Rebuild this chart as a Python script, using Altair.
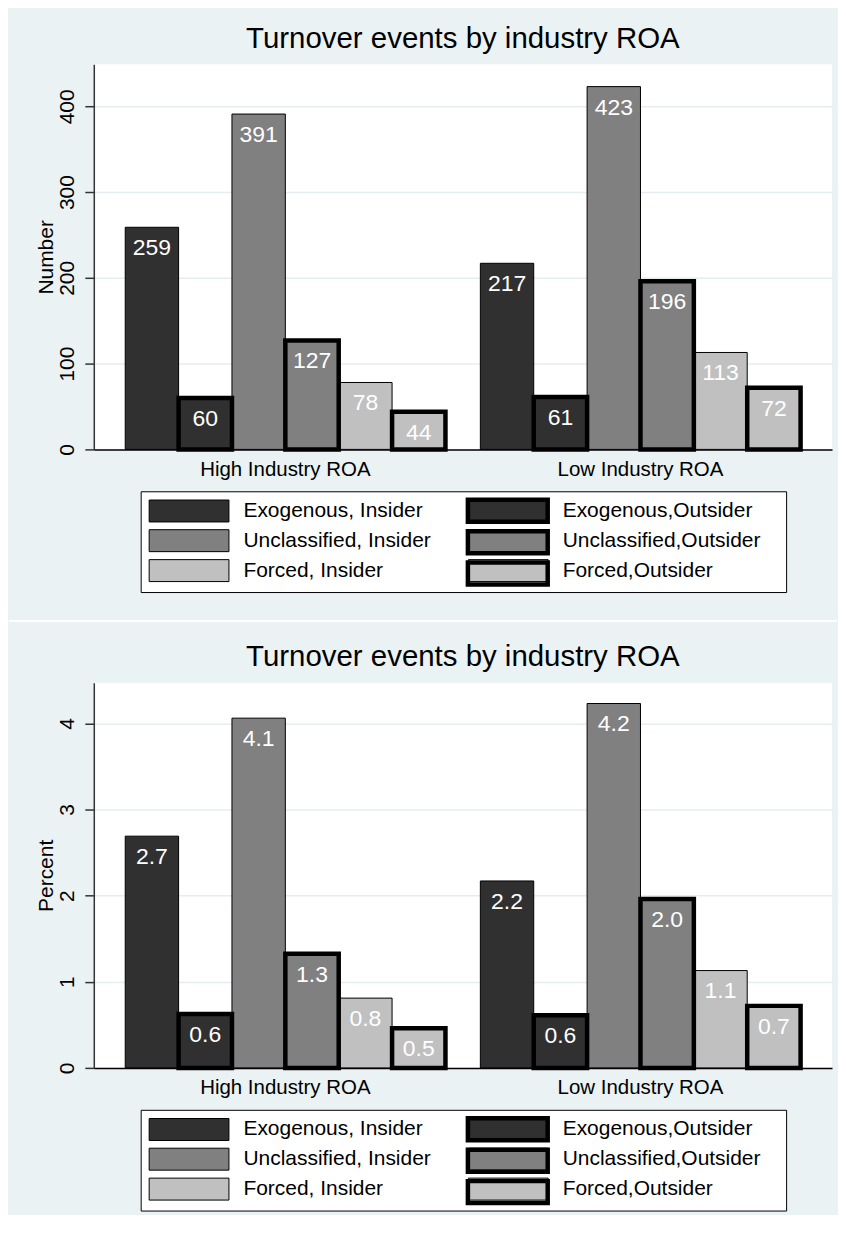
import altair as alt
import pandas as pd

FONT = "Liberation Sans, Arial, Helvetica, sans-serif"

title_text = "Turnover events by industry ROA"
groups = ["High Industry ROA", "Low Industry ROA"]
series = ["Exogenous, Insider", "Exogenous,Outsider",
          "Unclassified, Insider", "Unclassified,Outsider",
          "Forced, Insider", "Forced,Outsider"]
fill_colors = ["#303030", "#303030", "#808080", "#808080", "#C0C0C0", "#C0C0C0"]
is_outsider = [False, True, False, True, False, True]

number_high = [259, 60, 391, 127, 78, 44]
number_low = [217, 61, 423, 196, 113, 72]
number_ticks = [0, 100, 200, 300, 400]

percent_high = [2.69, 0.625, 4.06, 1.325, 0.81, 0.46]
percent_low = [2.17, 0.61, 4.23, 1.96, 1.13, 0.72]
percent_high_text = ["2.7", "0.6", "4.1", "1.3", "0.8", "0.5"]
percent_low_text = ["2.2", "0.6", "4.2", "2.0", "1.1", "0.7"]
percent_ticks = [0, 1, 2, 3, 4]

outsider_series = [s for s, o in zip(series, is_outsider) if o]

PW, PH = 740, 386
SYMBOL = "M-1,-1H6.27V1H-1Z"
# thick black frame laid over the outsider legend keys (outer ring minus inner hole)
FRAME = ("M-1.2045,-1.2045H6.4773V1.2045H-1.2045Z"
         "M-0.7955,-0.7955V0.7955H6.0682V-0.7955Z")


def make_panel(high, low, high_text, low_text, ytitle, ymax, ticks, add_separator):
    df = pd.DataFrame({
        "group": [groups[0]] * 6 + [groups[1]] * 6,
        "series": series * 2,
        "value": high + low,
        "label": high_text + low_text,
        "outsider": is_outsider * 2,
    })
    x = alt.X("group:N", sort=groups,
              scale=alt.Scale(paddingInner=0.0983, paddingOuter=0.0885),
              axis=alt.Axis(title=None, ticks=False, tickSize=0, labelAngle=0,
                            labelFont=FONT, labelFontSize=20.5, labelColor="black",
                            labelPadding=26, labelBaseline="alphabetic",
                            domainColor="black", domainWidth=1.5, grid=False))
    xo = alt.XOffset("series:N", sort=series,
                     scale=alt.Scale(domain=series, paddingInner=0, paddingOuter=0))
    y = alt.Y("value:Q", scale=alt.Scale(domain=[0, ymax], nice=False, zero=True),
              axis=alt.Axis(title=ytitle, values=ticks, tickSize=9, tickColor="#333333",
                            tickWidth=1.5, domainColor="#333333", domainWidth=1.5,
                            labelAngle=270, labelAlign="center", labelBaseline="alphabetic",
                            labelPadding=11, labelFont=FONT, labelFontSize=21,
                            labelColor="black", grid=True, gridColor="#E4EDF0",
                            gridWidth=1.5, titleFont=FONT, titleFontSize=21,
                            titleFontWeight="normal", titleColor="black",
                            titleAngle=270, titleAlign="center",
                            titleBaseline="alphabetic", titleX=-41.5, titleY=PH / 2))
    legend_all = alt.Legend(
        title="00", titleOrient="right", titleOpacity=0, titleFontSize=10,
        titlePadding=6, orient="none", legendX=47, legendY=428,
        direction="horizontal", columns=2, columnPadding=35,
        symbolType=SYMBOL, symbolSize=484, symbolStrokeColor="black",
        symbolStrokeWidth=1, symbolOpacity=1,
        labelFont=FONT, labelFontSize=21, labelColor="black", labelLimit=400,
        labelOffset=72, fillColor="white", strokeColor="black", padding=8,
        rowPadding=3, zindex=1)
    legend_frame = alt.Legend(
        title=None, orient="none", legendX=368, legendY=429.5, direction="vertical",
        symbolType=FRAME, symbolSize=484, symbolFillColor="black",
        symbolStrokeColor="transparent", symbolStrokeWidth=0, symbolOpacity=1,
        labelFont=FONT, labelFontSize=21, labelOpacity=0, labelLimit=400,
        labelExpr="''", labelOffset=68, padding=7, rowPadding=3.5, zindex=2)
    color = alt.Color("series:N", sort=series,
                      scale=alt.Scale(domain=series, range=fill_colors),
                      legend=legend_all)
    base = alt.Chart(df)
    bars_in = base.transform_filter("!datum.outsider").mark_bar(
        stroke="black", strokeWidth=1).encode(x=x, xOffset=xo, y=y, color=color)
    bars_out = base.transform_filter("datum.outsider").mark_bar(
        stroke="black", strokeWidth=4.5).encode(
        x=x, xOffset=xo, y=y, color=color,
        opacity=alt.Opacity("series:N", sort=outsider_series,
                            scale=alt.Scale(domain=outsider_series, range=[1, 1]),
                            legend=legend_frame))
    labels = base.mark_text(color="white", font=FONT, fontSize=23, baseline="alphabetic",
                            align="center", dy=28).encode(
        x=x, xOffset=xo, y=y, text="label:N")
    layers = [bars_in, bars_out, labels]
    if add_separator:
        sep = alt.Chart(pd.DataFrame({"k": [0]})).mark_rule(
            color="white", strokeWidth=2).encode(
            x=alt.value(-85), x2=alt.value(745), y=alt.value(558))
        layers.append(sep)
    return alt.layer(*layers).properties(
        width=PW, height=PH, title=alt.TitleParams(title_text))


p1 = make_panel(number_high, number_low, [str(v) for v in number_high],
                [str(v) for v in number_low], "Number", 449, number_ticks, True)
p2 = make_panel(percent_high, percent_low, percent_high_text, percent_low_text,
                "Percent", 4.47, percent_ticks, False)

chart = alt.vconcat(p1, p2, spacing=20).resolve_scale(
    color="independent", opacity="independent").resolve_legend(
    color="independent", opacity="independent").properties(
    background="#EAF2F3",
    padding={"left": 0, "top": 14, "right": 0, "bottom": 0},
).configure_view(stroke=None, fill="white").configure_title(
    font=FONT, fontSize=29.5, fontWeight="normal", color="black", anchor="middle",
    frame="group", baseline="alphabetic", offset=10)

chart.save("out.html", embed_options={"renderer": "svg", "actions": False})
